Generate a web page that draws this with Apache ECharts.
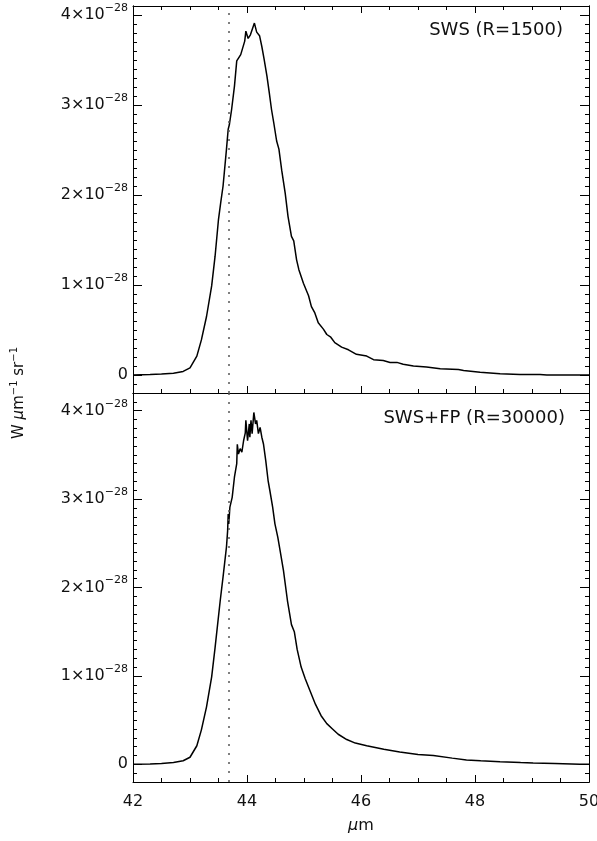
<!DOCTYPE html>
<html>
<head>
<meta charset="utf-8">
<script src="https://cdn.jsdelivr.net/npm/echarts@6/dist/echarts.min.js"></script>
<style>
html,body{margin:0;padding:0;background:#fff;}
#chart{width:597px;height:841px;}
</style>
</head>
<body>
<div id="chart"></div>
<script>
// Flux values in units of 1e-28 W um^-1 sr^-1
const wavelengthTop = [42.00,42.30,42.50,42.71,42.88,43.00,43.12,43.20,43.29,43.38,43.44,43.50,43.54,43.58,43.64,43.67,43.69,43.73,43.78,43.82,43.85,43.89,43.92,43.96,43.98,44.02,44.06,44.09,44.13,44.17,44.22,44.26,44.30,44.35,44.39,44.43,44.47,44.52,44.56,44.61,44.67,44.72,44.78,44.82,44.87,44.91,44.99,45.08,45.13,45.19,45.25,45.34,45.40,45.47,45.54,45.66,45.78,45.92,46.10,46.22,46.39,46.51,46.63,46.74,46.92,47.15,47.39,47.71,47.80,48.09,48.44,48.79,49.14,49.26,49.61,50.00];
const fluxTop = [0.00,0.005,0.01,0.02,0.04,0.08,0.21,0.39,0.65,0.99,1.32,1.73,1.92,2.10,2.51,2.73,2.78,2.95,3.21,3.49,3.51,3.56,3.58,3.71,3.82,3.74,3.78,3.77,3.91,3.81,3.77,3.65,3.51,3.32,3.14,2.95,2.80,2.60,2.51,2.27,2.02,1.76,1.54,1.49,1.28,1.17,1.02,0.88,0.76,0.69,0.58,0.51,0.45,0.42,0.36,0.31,0.28,0.23,0.21,0.17,0.16,0.14,0.14,0.12,0.10,0.09,0.07,0.06,0.05,0.03,0.013,0.006,0.006,0.0,0.0,0.0];

const wavelengthBot = [42.00,42.30,42.50,42.71,42.88,43.00,43.12,43.20,43.29,43.38,43.44,43.53,43.58,43.64,43.66,43.67,43.68,43.70,43.74,43.78,43.82,43.83,43.85,43.88,43.91,43.94,43.97,43.98,44.01,44.04,44.05,44.07,44.09,44.12,44.15,44.17,44.20,44.23,44.26,44.29,44.33,44.37,44.40,44.45,44.49,44.54,44.58,44.64,44.71,44.78,44.83,44.88,44.95,45.02,45.10,45.20,45.30,45.40,45.50,45.60,45.75,45.90,46.10,46.40,46.68,47.00,47.27,47.60,47.85,48.10,48.44,48.80,49.02,49.40,49.84,50.00];
const fluxBot = [0.00,0.005,0.01,0.02,0.04,0.08,0.21,0.39,0.65,0.99,1.32,1.85,2.12,2.46,2.64,2.83,2.72,2.91,3.02,3.25,3.40,3.62,3.51,3.57,3.53,3.66,3.75,3.89,3.66,3.85,3.70,3.89,3.74,3.98,3.85,3.89,3.74,3.81,3.70,3.62,3.43,3.21,3.10,2.91,2.72,2.57,2.42,2.19,1.85,1.58,1.50,1.30,1.10,0.97,0.84,0.68,0.55,0.46,0.40,0.34,0.28,0.24,0.21,0.17,0.14,0.11,0.10,0.07,0.05,0.04,0.03,0.02,0.015,0.01,0.0,0.0];

const xTickValues = [42,44,46,48,50];
const yMajorValues = [0,1,2,3,4];
const markerWavelength = 43.68;
const panelTitles = ['SWS (R=1500)', 'SWS+FP (R=30000)'];

const FONT = 'DejaVu Sans';
const yMinor = (maxv) => { const a=[]; for (let i=-1;i<=Math.round(maxv*10);i++){ if (i%10!==0) a.push(i/10);} return a; };

function yLabelFmt(v){
  if (v === 0) return '{b|0}';
  return '{b|' + v + '×10}{s|−28}';
}
const yRich = {
  b:{fontFamily:FONT,fontSize:16,color:'#111'},
  s:{fontFamily:FONT,fontSize:11,color:'#111',padding:[0,0,14,0]}
};

function yAxesFor(gridIndex, maxv){
  const common = {type:'value', gridIndex, min:-0.2, max:maxv, splitLine:{show:false},
    axisLine:{show:true, lineStyle:{color:'#000',width:1}}};
  return [
    Object.assign({}, common, {position:'left',
      axisTick:{show:true, inside:true, length:9, customValues:yMajorValues, lineStyle:{color:'#000'}},
      axisLabel:{show:true, customValues:yMajorValues, margin:5, formatter:yLabelFmt, rich:yRich}}),
    Object.assign({}, common, {position:'left',
      axisTick:{show:true, inside:true, length:4, customValues:yMinor(maxv), lineStyle:{color:'#000'}},
      axisLabel:{show:false}}),
    Object.assign({}, common, {position:'right',
      axisTick:{show:true, inside:true, length:9, customValues:yMajorValues, lineStyle:{color:'#000'}},
      axisLabel:{show:false}}),
    Object.assign({}, common, {position:'right',
      axisTick:{show:true, inside:true, length:4, customValues:yMinor(maxv), lineStyle:{color:'#000'}},
      axisLabel:{show:false}})
  ];
}

function xAxisFor(gridIndex, position, ticks, labels){
  const ax = {type:'value', gridIndex, position, min:42, max:50, interval:2,
    splitLine:{show:false},
    axisLine:{show:true, onZero:false, lineStyle:{color:'#000',width:1}},
    axisTick:{show:ticks, inside:true, length:7, lineStyle:{color:'#000'}},
    minorTick:{show:ticks, splitNumber:4, length:4, lineStyle:{color:'#000'}},
    axisLabel:{show:labels, margin:12, fontFamily:FONT, fontSize:16, color:'#111',
      customValues: xTickValues, formatter:(v)=>String(v)}
  };
  if (labels){
    ax.name = '{g|μ}{n|m}';
    ax.nameLocation = 'middle';
    ax.nameGap = 36;
    ax.nameTextStyle = {rich:{g:{fontFamily:FONT,fontSize:16,fontStyle:'italic',color:'#111'},n:{fontFamily:FONT,fontSize:16,color:'#111'}}};
  }
  return ax;
}

function zip(xs, ys){ return xs.map((x,i)=>[x, ys[i]]); }

const markLine = {symbol:'none', silent:true, label:{show:false},
  lineStyle:{type:[2,7], color:'#555', width:1.5},
  data:[{xAxis:markerWavelength}]};

const chart = echarts.init(document.getElementById('chart'), null, {renderer:'canvas'});
chart.setOption({
  animation:false,
  backgroundColor:'#fff',
  grid:[
    {left:133, right:8, top:6, height:387, outerBoundsMode:'none', containLabel:false},
    {left:133, right:8, top:393, height:389, outerBoundsMode:'none', containLabel:false}
  ],
  xAxis:[
    xAxisFor(0,'bottom',true,false),
    xAxisFor(0,'top',true,false),
    xAxisFor(1,'bottom',true,true),
    xAxisFor(1,'top',false,false)
  ],
  yAxis:[].concat(yAxesFor(0,4.1), yAxesFor(1,4.2)),
  series:[
    {type:'line', xAxisIndex:0, yAxisIndex:0, data:zip(wavelengthTop, fluxTop), showSymbol:false,
      lineStyle:{color:'#000', width:1.5}, markLine},
    {type:'line', xAxisIndex:2, yAxisIndex:4, data:zip(wavelengthBot, fluxBot), showSymbol:false,
      lineStyle:{color:'#000', width:1.5}, markLine}
  ],
  graphic:[
    {type:'text', right:34, top:21, style:{text:panelTitles[0], fontFamily:FONT, fontSize:18, fill:'#111'}},
    {type:'text', right:32, top:409, style:{text:panelTitles[1], fontFamily:FONT, fontSize:18, fill:'#111'}},
    {type:'text', x:19, y:393, rotation:Math.PI/2,
      style:{text:'{n|W }{g|μ}{n|m}{s|−1}{n| sr}{s|−1}', align:'center', verticalAlign:'middle',
        rich:{n:{fontFamily:FONT,fontSize:15,fill:'#111'},g:{fontFamily:FONT,fontSize:15,fontStyle:'italic',fill:'#111'},
          s:{fontFamily:FONT,fontSize:10,fill:'#111',padding:[0,0,10,0]}}}}
  ]
});
</script>
</body>
</html>
